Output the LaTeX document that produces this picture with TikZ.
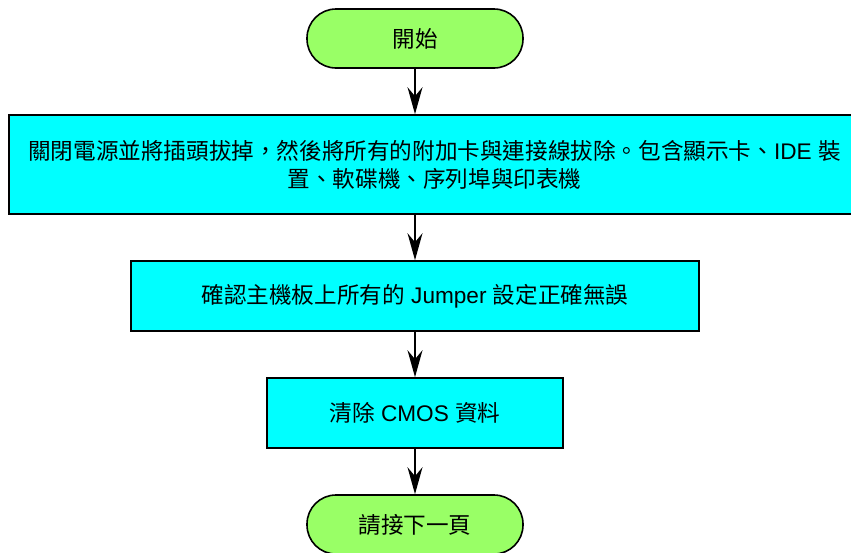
\documentclass[tikz,border=0pt]{standalone}
\usepackage{fontspec}
\setmainfont{Noto Sans CJK TC}
\newfontfamily\latin{Liberation Sans}
\usetikzlibrary{arrows.meta,positioning}
\definecolor{termgreen}{RGB}{153,255,102}
\definecolor{stepcyan}{RGB}{0,255,255}

\begin{document}
\begin{tikzpicture}[
    node distance=45.4pt,
    every node/.style={font=\fontsize{22.6}{28}\selectfont},
    terminal/.style={draw, line width=1.6pt, fill=termgreen, rounded corners=29pt,
      minimum width=216pt, minimum height=59pt, inner sep=0pt},
    stepbox/.style={draw, line width=1.6pt, fill=stepcyan, minimum height=70pt,
      inner sep=0pt, align=center},
    flow/.style={-{Stealth[length=27pt, width=15pt, inset=9pt]}, line width=1.6pt}
  ]
    \useasboundingbox (0,0) rectangle (851pt,-552pt);

    \node[terminal] (start) at (415pt,-38.5pt) {開始};
    \node[stepbox, minimum width=851pt, minimum height=99pt, below=of start, xshift=19.5pt] (unplug)
      {關閉電源並將插頭拔掉，然後將所有的附加卡與連接線拔除。包含顯示卡、{\latin IDE\ }裝\\置、軟碟機、序列埠與印表機};
    \node[stepbox, minimum width=568pt, below=of start |- unplug.south] (jumper)
      {確認主機板上所有的{\latin\ Jumper\ }設定正確無誤};
    \node[stepbox, minimum width=296pt, below=of jumper] (cmos)
      {清除{\latin\ CMOS\ }資料};
    \node[terminal, below=of cmos] (next) {請接下一頁};

    \draw[flow] (start) -- (start |- unplug.north);
    \draw[flow] (start |- unplug.south) -- (jumper);
    \draw[flow] (jumper) -- (cmos);
    \draw[flow] (cmos) -- (next);
  \end{tikzpicture}
\end{document}
